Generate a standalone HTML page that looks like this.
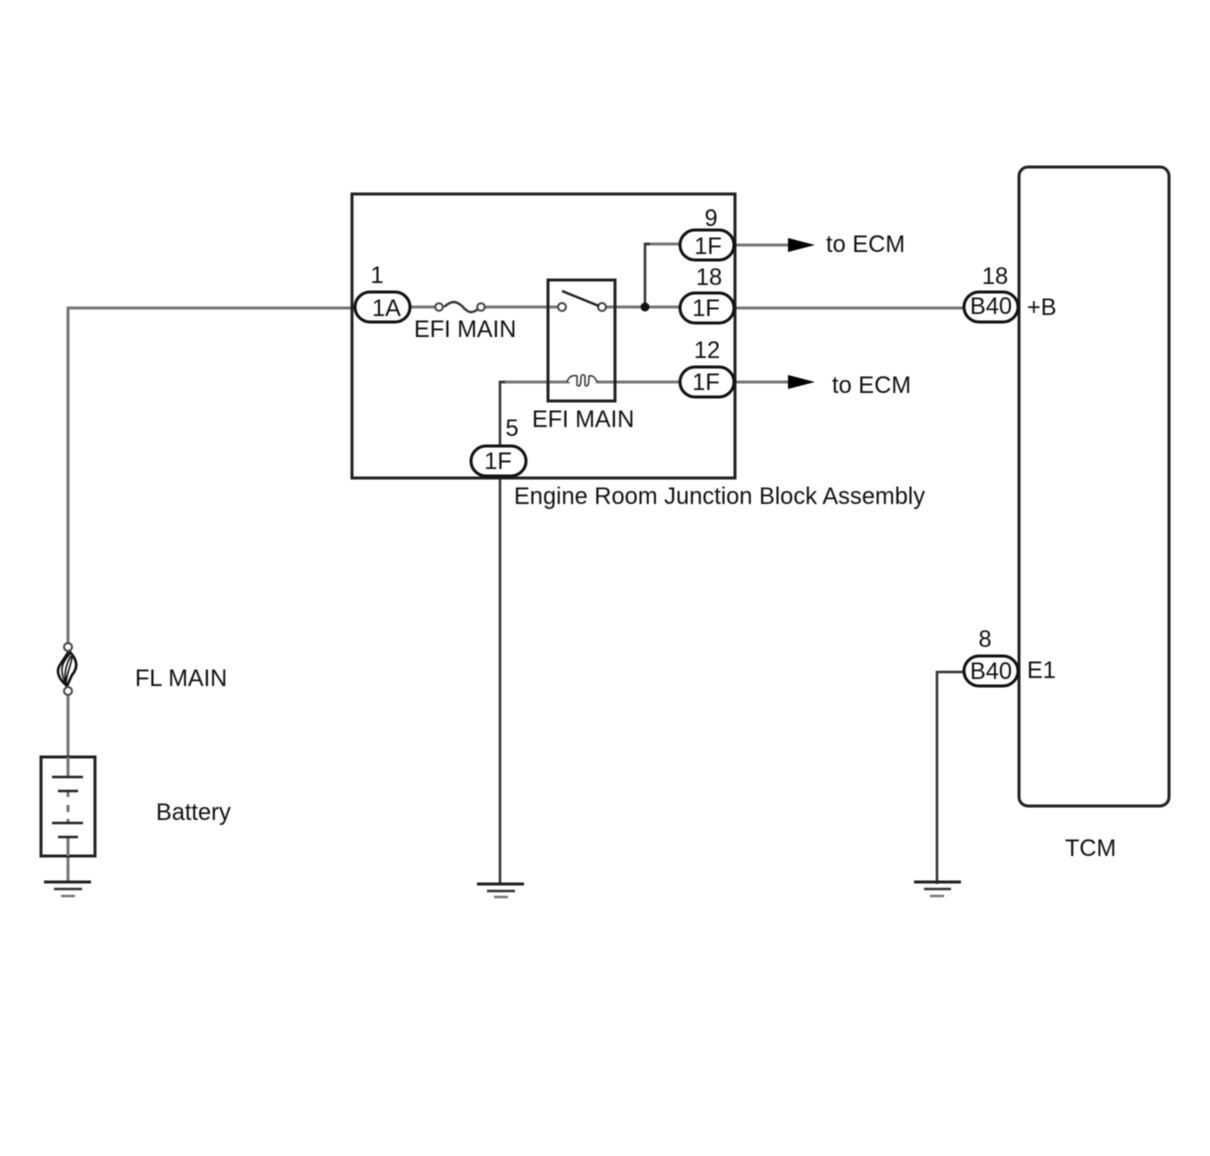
<!DOCTYPE html>
<html><head><meta charset="utf-8"><style>
html,body{margin:0;padding:0;background:#fff}
svg{display:block;filter:blur(.5px)}
text{font-family:"Liberation Sans",sans-serif;font-size:23.6px;fill:#111}
.m{text-anchor:middle}
.w{stroke:#777;stroke-width:3;fill:none}
.d{stroke:#333;stroke-width:2.5;fill:none}
.b{stroke:#222;stroke-width:3;fill:none}
.p{stroke:#111;stroke-width:3;fill:#fff}
.o{stroke:#444;stroke-width:2;fill:#fff}
</style></head><body>
<svg width="1210" height="1156" viewBox="0 0 1210 1156" xmlns="http://www.w3.org/2000/svg">
<rect width="1210" height="1156" fill="#fff"/>
<!-- wires -->
<path class="w" d="M68 645V308H354M410 307H436M484 307H562M602 307H680M734 308H964"/>
<path class="w" d="M68 692V757M68 855V882"/>
<path class="w" d="M500 382H570M596 382H680M734 382H790M734 245H790"/>
<path class="w" d="M646 244H680"/>
<path class="d" d="M645 307V244H650M500 450V382H505M500 478V884M964 672H937V884"/>
<!-- main boxes -->
<rect x="352" y="194" width="383" height="284" class="b"/>
<rect x="1019" y="167" width="150" height="639" rx="9" class="b"/>
<rect x="548" y="280" width="67" height="121" class="b"/>
<!-- fuse + relay -->
<path d="M444 307C452 300 456 301 462 306C468 313 472 314 478 309" fill="none" stroke="#333" stroke-width="2.4"/>
<circle cx="439" cy="307" r="3.8" class="o"/><circle cx="481" cy="307" r="3.8" class="o"/>
<circle cx="562" cy="307" r="4" class="o"/><circle cx="602" cy="307" r="4" class="o"/>
<path d="M562 291L599 306" stroke="#222" stroke-width="2.5" fill="none"/>
<path d="M567 382C569 376 573 375 577 376V385C579 387 581 387 581 377C581 374 585 374 585 377V385C587 387 589 387 589 376C592 375 595 377 597 382" fill="#fff" stroke="#333" stroke-width="1.5"/>
<circle cx="645" cy="307" r="4.5" fill="#111"/>
<!-- arrows -->
<path d="M788 238L815 245L788 252ZM788 375L815 382L788 389Z" fill="#000"/>
<!-- pills -->
<rect x="355" y="292" width="55" height="30" rx="15" class="p"/>
<rect x="680" y="230" width="54" height="30" rx="15" class="p"/>
<rect x="680" y="293" width="54" height="30" rx="15" class="p"/>
<rect x="680" y="367" width="54" height="30" rx="15" class="p"/>
<rect x="471" y="446" width="55" height="30" rx="15" class="p"/>
<rect x="964" y="292" width="54" height="30" rx="15" class="p"/>
<rect x="964" y="656" width="54" height="30" rx="15" class="p"/>
<!-- FL fuse -->
<path d="M69 651C78 660 78 668 72 675L67 686C60 680 55 672 60 665Z" fill="#fff" stroke="#111" stroke-width="2.6"/>
<path d="M70 654C60 664 60 672 66 684M71 656C66 664 64 674 66 684M72 656C72 664 66 674 66 684" fill="none" stroke="#111" stroke-width="1.6"/>
<circle cx="68" cy="647" r="4" class="o"/><circle cx="68" cy="691" r="4" class="o"/>
<!-- battery -->
<rect x="41" y="757" width="54" height="99" class="b"/>
<path d="M68 757V777M68 791V797M68 805V812M68 819V823M68 837V856" class="w"/>
<path d="M52 777H83M58 791H78M52 823H83M58 837H78" stroke="#222" stroke-width="2.5" fill="none"/>
<!-- grounds -->
<path d="M44 882H91" stroke="#222" stroke-width="3" fill="none"/><path d="M54 889H82" stroke="#333" stroke-width="2.5"/><path d="M61 896H75" stroke="#777" stroke-width="2.5"/>
<path d="M477 884H524" stroke="#222" stroke-width="3" fill="none"/><path d="M487 891H515" stroke="#333" stroke-width="2.5"/><path d="M494 897H508" stroke="#777" stroke-width="2.5"/>
<path d="M914 882H961" stroke="#222" stroke-width="3" fill="none"/><path d="M924 889H951" stroke="#333" stroke-width="2.5"/><path d="M930 896H944" stroke="#777" stroke-width="2.5"/>
<!-- text -->
<text x="377" y="283" class="m">1</text>
<text x="372" y="316">1A</text>
<text x="414" y="337">EFI MAIN</text>
<text x="532" y="427">EFI MAIN</text>
<text x="512" y="436" class="m">5</text>
<text x="498" y="469" class="m">1F</text>
<text x="711" y="226" class="m">9</text>
<text x="708" y="254" class="m">1F</text>
<text x="709" y="285" class="m">18</text>
<text x="706" y="316" class="m">1F</text>
<text x="707" y="358" class="m">12</text>
<text x="706" y="390" class="m">1F</text>
<text x="826" y="252" textLength="79">to ECM</text>
<text x="832" y="393" textLength="79">to ECM</text>
<text x="995" y="284" class="m">18</text>
<text x="991" y="314" class="m">B40</text>
<text x="1027" y="315">+B</text>
<text x="985" y="647" class="m">8</text>
<text x="991" y="679" class="m">B40</text>
<text x="1027" y="678">E1</text>
<text x="514" y="504" textLength="411">Engine Room Junction Block Assembly</text>
<text x="135" y="686">FL MAIN</text>
<text x="156" y="820">Battery</text>
<text x="1065" y="856">TCM</text>
</svg>
</body></html>
